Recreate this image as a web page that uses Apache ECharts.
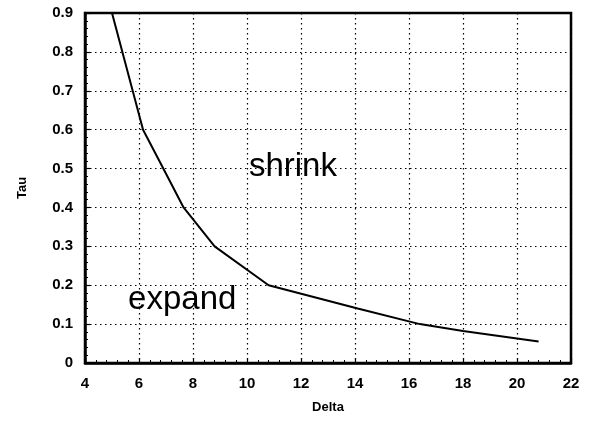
<!DOCTYPE html>
<html><head><meta charset="utf-8">
<script src="https://cdn.jsdelivr.net/npm/echarts@6/dist/echarts.min.js"></script>
<style>html,body{margin:0;padding:0;background:#fff}#c{width:593px;height:423px}</style>
</head><body><div id="c"></div>
<script>
const deltaValues = [5.0, 6.15, 6.9, 7.65, 8.8, 10.8, 14.1, 16.4, 18.0, 20.8];
const tauValues   = [0.9, 0.6, 0.5, 0.4, 0.3, 0.2, 0.14, 0.1, 0.082, 0.055];
const regionLabels = ['shrink', 'expand'];
const regionPos = [[11.7, 0.505], [7.6, 0.162]];
const xTicks = [4, 22, 2];
const yTicks = [0, 0.9, 0.1];

const chart = echarts.init(document.getElementById('c'));
const font = 'Liberation Sans, Arial, sans-serif';
const axisCommon = {
  axisLine: {show: true, lineStyle: {color: '#000', width: 2.5}},
  axisTick: {show: true, inside: true, length: 5, lineStyle: {color: '#000', width: 1.2}},
  minorTick: {show: true, splitNumber: 5, length: 3, lineStyle: {color: '#000', width: 1}},
  splitLine: {show: true, lineStyle: {color: '#000', type: [1.5, 3.5], width: 1.2}},
  axisLabel: {color: '#000', fontFamily: font, fontWeight: 'bold', fontSize: 15},
  nameTextStyle: {color: '#000', fontFamily: font, fontWeight: 'bold', fontSize: 13}
};
chart.setOption({
  animation: false,
  grid: {left: 85, right: 22, top: 13, bottom: 60, show: true, borderColor: '#000', borderWidth: 2.5},
  xAxis: Object.assign({}, axisCommon, {
    type: 'value', min: xTicks[0], max: xTicks[1], interval: xTicks[2],
    name: 'Delta', nameLocation: 'middle', nameGap: 38,
    axisLabel: Object.assign({}, axisCommon.axisLabel, {margin: 13})
  }),
  yAxis: Object.assign({}, axisCommon, {
    type: 'value', min: yTicks[0], max: yTicks[1], interval: yTicks[2],
    name: 'Tau', nameLocation: 'middle', nameGap: 56, nameRotate: 90,
    axisLabel: Object.assign({}, axisCommon.axisLabel, {margin: 12, formatter: v => v === 0 ? '0' : v.toFixed(1)})
  }),
  series: [{
    type: 'line',
    data: deltaValues.map((d, i) => [d, tauValues[i]]),
    showSymbol: false, symbol: 'none',
    lineStyle: {color: '#000', width: 2},
    z: 5
  }, {
    type: 'scatter',
    data: regionPos.map((p, i) => ({value: p, name: regionLabels[i]})),
    symbolSize: 0,
    itemStyle: {opacity: 1, color: '#000'},
    label: {show: true, position: 'inside', formatter: p => p.name, color: '#000',
      fontFamily: font, fontSize: 33},
    z: 6
  }]
});
</script></body></html>
